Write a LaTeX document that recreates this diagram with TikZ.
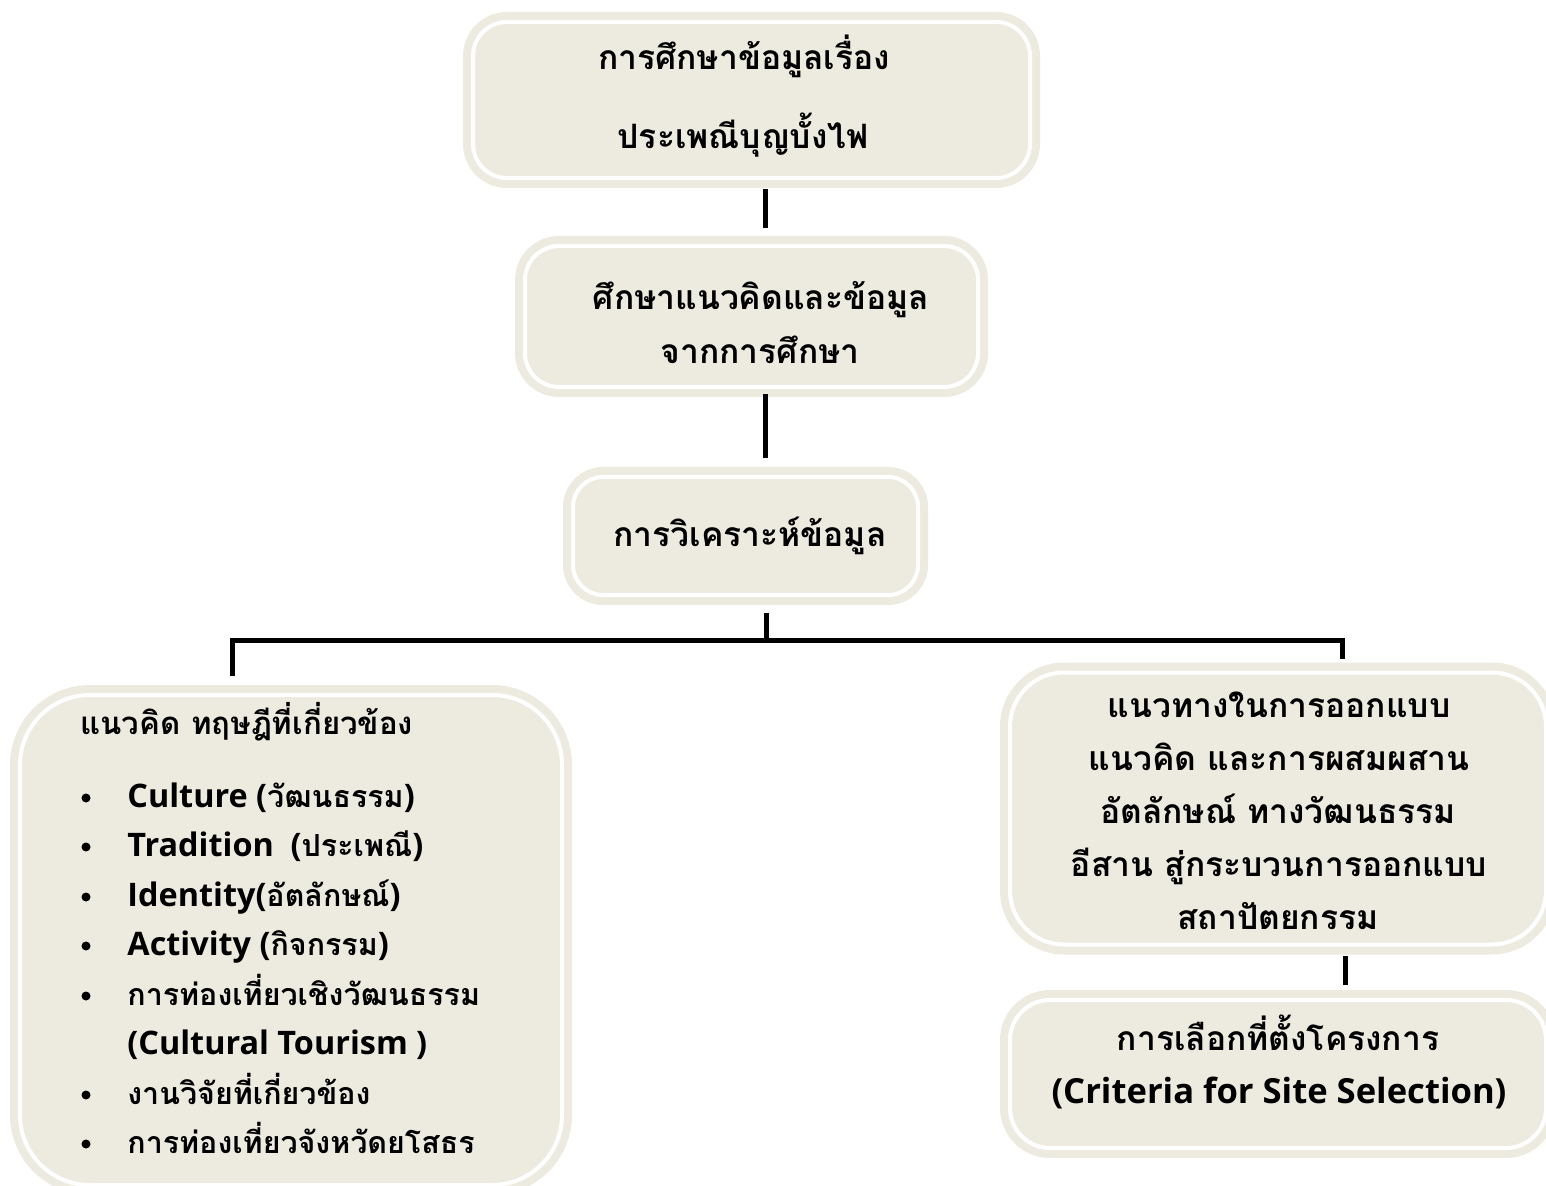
\documentclass[tikz,border=0pt]{standalone}
\usepackage{fontspec}
\newfontfamily\thai[Script=Thai]{Loma}
\newfontfamily\latf{Open Sans}
\newcommand{\lat}[1]{{\latf\bfseries\fontsize{16.2}{18}\selectfont #1}}
\definecolor{boxfill}{RGB}{237,235,224}
\tikzset{
  x=0.5pt, y=-0.5pt,
  fbox/.style={draw=boxfill, fill=boxfill, line width=4pt, double=white, double distance=2pt, inner sep=0pt},
  tl/.style={font=\thai\bfseries\fontsize{16.8}{20}\selectfont, anchor=base, inner sep=0pt, text=black},
  tll/.style={font=\thai\bfseries\fontsize{15.2}{18}\selectfont, inner sep=0pt, text=black, anchor=base west},
  conn/.style={line width=2.5pt, black},
  bul/.style={circle, fill=black, inner sep=0pt, minimum size=4.5pt}
}
\begin{document}
\begin{tikzpicture}
\clip (0,0) rectangle (1546,1186);
\fill[white] (0,0) rectangle (1546,1186);
% boxes
\node[fbox, rounded corners=17pt, minimum width=278.5pt, minimum height=78pt] (top) at (751.5,100) {};
\node[fbox, rounded corners=17pt, minimum width=226.5pt, minimum height=70.5pt] (mid) at (751.5,316.5) {};
\node[fbox, rounded corners=15pt, minimum width=172.5pt, minimum height=59pt] (ana) at (745.5,536) {};
\node[fbox, rounded corners=35pt, minimum width=271pt, minimum height=245pt] (left) at (291,940) {};
\node[fbox, rounded corners=27pt, minimum width=268pt, minimum height=136pt] (r1) at (1278,808.5) {};
\node[fbox, rounded corners=20pt, minimum width=268pt, minimum height=74pt] (r2) at (1278,1074) {};
% connectors
\coordinate (j) at (766,641);
\coordinate (lj) at (232,641);
\coordinate (rj) at (1342,641);
\draw[conn, shorten <=3.5pt, shorten >=7pt] (top.south -| 765,0) -- (mid.north -| 765,0);
\draw[conn, shorten <=1.5pt, shorten >=7.5pt] (mid.south -| 765,0) -- (ana.north -| 765,0);
\draw[conn, shorten <=7pt] (ana.south -| j) -- (j);
\draw[conn, line cap=rect] (lj) -- (rj);
\draw[conn, shorten >=7.5pt] (lj) -- (lj |- left.north);
\draw[conn, shorten >=5pt] (rj) -- (rj |- r1.north);
\draw[conn, shorten <=3.5pt, shorten >=5.5pt] (r1.south -| 1345,0) -- (r2.north -| 1345,0);
% texts
\node[tl] (t1a) at (744,70) {การศึกษาข้อมูลเรื่อง};
\node[tl] (t1b) at (743,149) {ประเพณีบุญบั้งไฟ};
\node[tl] (t2a) at (761,310) {ศึกษาแนวคิดและข้อมูล};
\node[tl] (t2b) at (760,364) {จากการศึกษา};
\node[tl] (t3) at (750,547) {การวิเคราะห์ข้อมูล};
\node[tll, font=\thai\bfseries\fontsize{15.6}{18}\selectfont] (lh) at (80,734) {แนวคิด ทฤษฎีที่เกี่ยวข้อง};
\node[tll] (l1) at (127,807) {\lat{Culture (}วัฒนธรรม\lat{)}};
\node[tll] (l2) at (127,856) {\lat{Tradition\ \ (}ประเพณี\lat{)}};
\node[tll] (l3) at (127,906) {\lat{Identity(}อัตลักษณ์\lat{)}};
\node[tll] (l4) at (127,955) {\lat{Activity (}กิจกรรม\lat{)}};
\node[tll] (l5) at (127,1005) {การท่องเที่ยวเชิงวัฒนธรรม};
\node[tll] (l6) at (127,1054) {\lat{(Cultural Tourism )}};
\node[tll] (l7) at (127,1104) {งานวิจัยที่เกี่ยวข้อง};
\node[tll] (l8) at (127,1153) {การท่องเที่ยวจังหวัดยโสธร};
\node[bul] (b1) at (86,798) {};
\node[bul] (b2) at (86,847) {};
\node[bul] (b3) at (86,897) {};
\node[bul] (b4) at (86,946) {};
\node[bul] (b5) at (86,996) {};
\node[bul] (b7) at (86,1095) {};
\node[bul] (b8) at (86,1144) {};
\node[tl] (r1a) at (1279,717) {แนวทางในการออกแบบ};
\node[tl] (r1b) at (1279,770) {แนวคิด และการผสมผสาน};
\node[tl] (r1c) at (1278,823) {อัตลักษณ์ ทางวัฒนธรรม};
\node[tl] (r1d) at (1279,876) {อีสาน สู่กระบวนการออกแบบ};
\node[tl] (r1e) at (1278,929) {สถาปัตยกรรม};
\node[tl] (r2a) at (1278,1050) {การเลือกที่ตั้งโครงการ};
\node[tl, font=\latf\bfseries\fontsize{17.3}{20}\selectfont] (r2b) at (1279,1103) {(Criteria for Site Selection)};
\end{tikzpicture}
\end{document}
